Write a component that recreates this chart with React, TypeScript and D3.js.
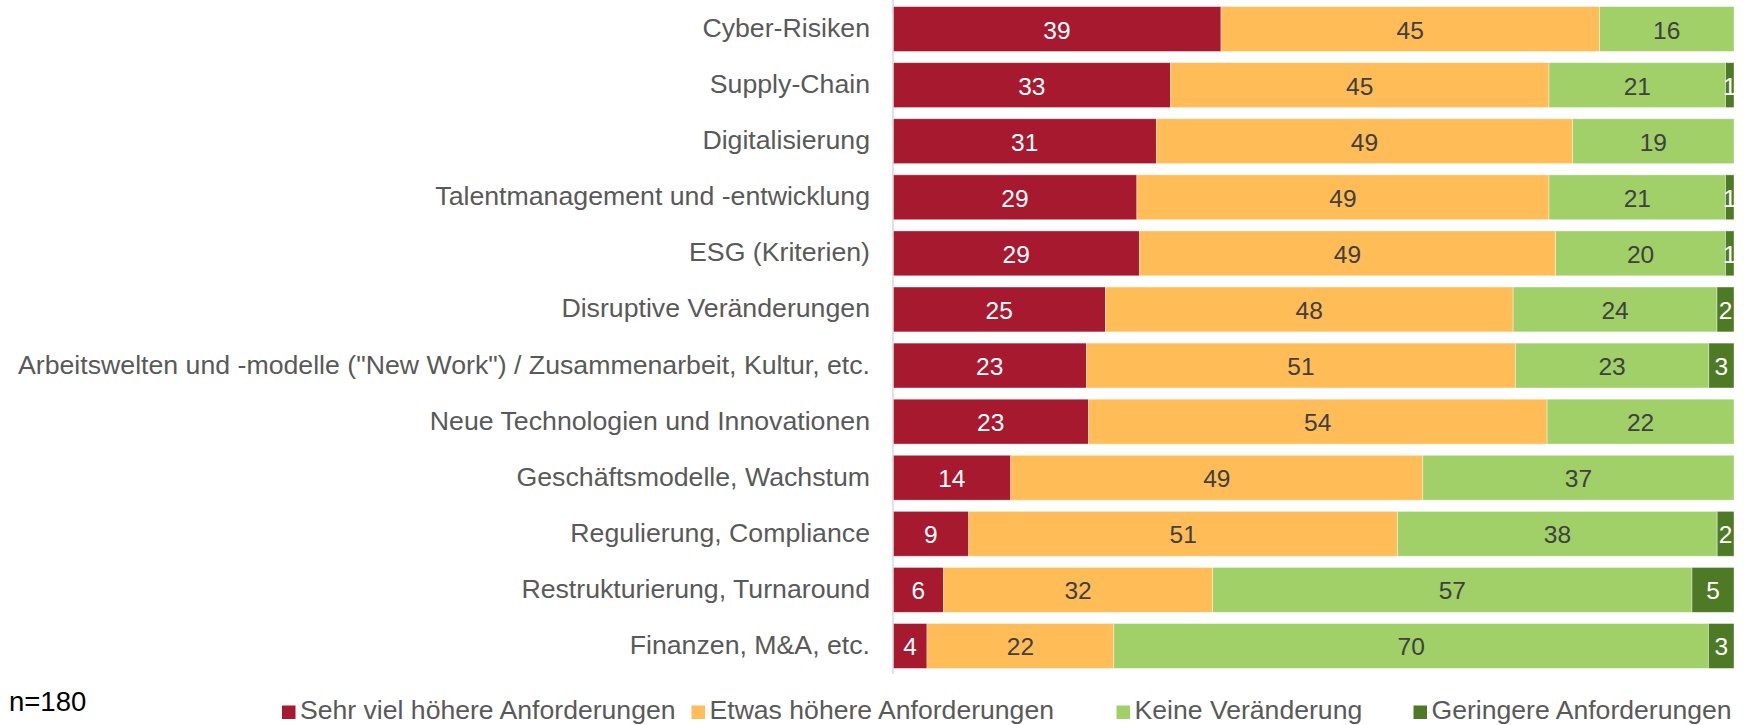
import React from "react";
import * as d3 from "d3";

const categories = [
  "Cyber-Risiken",
  "Supply-Chain",
  "Digitalisierung",
  "Talentmanagement und -entwicklung",
  "ESG (Kriterien)",
  "Disruptive Veränderungen",
  'Arbeitswelten und -modelle ("New Work") / Zusammenarbeit, Kultur, etc.',
  "Neue Technologien und Innovationen",
  "Geschäftsmodelle, Wachstum",
  "Regulierung, Compliance",
  "Restrukturierung, Turnaround",
  "Finanzen, M&A, etc.",
];

const seriesNames = [
  "Sehr viel höhere Anforderungen",
  "Etwas höhere Anforderungen",
  "Keine Veränderung",
  "Geringere Anforderungen",
];

const sehrViel = [39, 33, 31, 29, 29, 25, 23, 23, 14, 9, 6, 4];
const etwas = [45, 45, 49, 49, 49, 48, 51, 54, 49, 51, 32, 22];
const keine = [16, 21, 19, 21, 20, 24, 23, 22, 37, 38, 57, 70];
const geringer = [0, 1, 0, 1, 1, 2, 3, 0, 0, 2, 5, 3];

const colors = ["#A6192E", "#FFBC57", "#A1CF68", "#4E7A26"];
const labelColors = ["#FFFFFF", "#404040", "#404040", "#FFFFFF"];

const W = 1744;
const H = 725;
const x0 = 893;
const x1 = 1734;

export default function App() {
  React.useEffect(() => {
    document.body.style.margin = "0";
  }, []);
  const seriesValues = [sehrViel, etwas, keine, geringer];
  const rows = categories.map((c, i) => {
    const vals = seriesValues.map((s) => s[i]);
    const total = d3.sum(vals);
    return { c, vals, total };
  });
  const x = d3.scaleLinear().domain([0, 1]).range([x0, x1]);
  const y = d3
    .scaleBand<string>()
    .domain(categories)
    .range([1, 674])
    .paddingInner(0.2)
    .paddingOuter(0.1);
  const font = "'Liberation Sans', Arial, sans-serif";

  const legendTextX = [300, 709.5, 1134.5, 1431.5];

  return (
    <svg width={W} height={H} style={{ display: "block", fontFamily: font }}>
      <rect width={W} height={H} fill="#fff" />
      {rows.map((r, i) => {
        let acc = 0;
        const yy = y(r.c)!;
        const bh = y.bandwidth();
        return (
          <g key={i}>
            <text
              x={x0 - 23}
              y={yy + bh / 2 - 1}
              textAnchor="end"
              dominantBaseline="central"
              fontSize={26.7}
              fill="#595959"
            >
              {r.c}
            </text>
            {r.vals.map((v, j) => {
              const start = acc / r.total;
              acc += v;
              const end = acc / r.total;
              if (v <= 0) return null;
              const xs = x(start);
              const xe = x(end);
              return (
                <g key={j}>
                  <rect
                    x={xs}
                    y={yy}
                    width={xe - xs}
                    height={bh}
                    fill={colors[j]}
                    stroke="#ffffff"
                    strokeOpacity={0.5}
                    strokeWidth={0.75}
                  />
                  <text
                    x={(xs + xe) / 2}
                    y={yy + bh / 2 + 1}
                    textAnchor="middle"
                    dominantBaseline="central"
                    fontSize={24.5}
                    fill={labelColors[j]}
                  >
                    {v}
                  </text>
                </g>
              );
            })}
          </g>
        );
      })}
      <line x1={x0} x2={x0} y1={0} y2={674} stroke="#D9D9D9" strokeWidth={1.5} />
      <text x={9} y={710.5} fontSize={27.5} fill="#000">
        n=180
      </text>
      {seriesNames.map((s, j) => (
        <g key={s}>
          <rect x={legendTextX[j] - 18} y={705.5} width={13.5} height={13.5} fill={colors[j]} />
          <text x={legendTextX[j]} y={718.5} fontSize={26.6} fill="#595959">
            {s}
          </text>
        </g>
      ))}
    </svg>
  );
}
